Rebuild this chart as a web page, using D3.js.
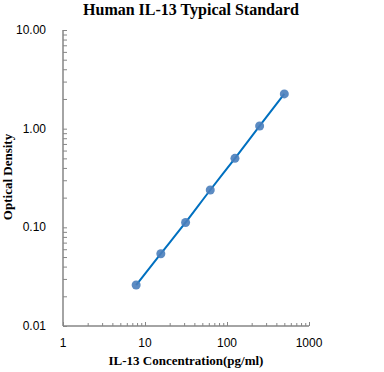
<!DOCTYPE html>
<html>
<head>
<meta charset="utf-8">
<script src="https://cdn.jsdelivr.net/npm/d3@7"></script>
<style>
  body { margin: 0; background: #fff; }
</style>
</head>
<body>
<div id="chart-area"></div>
<script>

// data
var concentrations = [7.8, 15.6, 31.25, 62.5, 125, 250, 500];
var densities = [0.026, 0.054, 0.112, 0.239, 0.50, 1.065, 2.25];
var xTickLabels = ["1", "10", "100", "1000"];
var yTickLabels = ["0.01", "0.10", "1.00", "10.00"];

var width = 384;
var height = 372;
var mLeft = 63, mRight = 309, mTop = 30, mBottom = 326;

var svg = d3.select("#chart-area").append("svg")
    .attr("width", width)
    .attr("height", height);

//  Scales

var x = d3.scaleLog()
    .domain([1, 1000])
    .range([mLeft, mRight]);

var y = d3.scaleLog()
    .domain([0.01, 10])
    .range([mBottom, mTop]);

var axisColor = "#868686";

// minor tick values 1..9 per decade
var xTicks = [];
[1, 10, 100].forEach((d) => {
    for (var i = 1; i < 10; i++) xTicks.push(d * i);
});
xTicks.push(1000);

var yTicks = [];
[0.01, 0.1, 1].forEach((d) => {
    for (var i = 1; i < 10; i++) yTicks.push(+(d * i).toPrecision(3));
});
yTicks.push(10);

//  X axis

var xAxis = d3.axisBottom(x)
    .tickValues(xTicks)
    .tickSize(-3)
    .tickFormat("");

var gx = svg.append("g")
    .attr("transform", "translate(0," + mBottom + ")")
    .call(xAxis);

gx.select(".domain").attr("stroke", axisColor).attr("stroke-width", 1.5)
    .attr("d", "M" + mLeft + ",0H" + mRight);
gx.selectAll(".tick line").attr("stroke", axisColor)
    .attr("y2", (d) => [1, 10, 100, 1000].indexOf(d) >= 0 ? -4 : -3);

svg.selectAll(".xlabel")
    .data(xTickLabels)
    .enter()
    .append("text")
    .attr("x", (d) => x(+d))
    .attr("y", 347)
    .attr("text-anchor", "middle")
    .style("font-family", "Liberation Sans, Arial, sans-serif")
    .style("font-size", "12px")
    .attr("fill", "#000")
    .text((d) => d);

//  Y axis

var yAxis = d3.axisLeft(y)
    .tickValues(yTicks)
    .tickSize(-4)
    .tickFormat("");

var gy = svg.append("g")
    .attr("transform", "translate(" + mLeft + ",0)")
    .call(yAxis);

gy.select(".domain").attr("stroke", axisColor).attr("stroke-width", 1.5)
    .attr("d", "M0," + mTop + "V" + mBottom);
gy.selectAll(".tick line").attr("stroke", axisColor);

svg.selectAll(".ylabel")
    .data(yTickLabels)
    .enter()
    .append("text")
    .attr("x", 46)
    .attr("y", (d) => y(+d) + 4)
    .attr("text-anchor", "end")
    .style("font-family", "Liberation Sans, Arial, sans-serif")
    .style("font-size", "12px")
    .attr("fill", "#000")
    .text((d) => d);

//  Titles

svg.append("text")
    .attr("x", 191)
    .attr("y", 15)
    .attr("text-anchor", "middle")
    .style("font-family", "Liberation Serif, Times New Roman, serif")
    .style("font-weight", "bold")
    .style("font-size", "16px")
    .text("Human IL-13 Typical Standard");

svg.append("text")
    .attr("x", 186)
    .attr("y", 365)
    .attr("text-anchor", "middle")
    .style("font-family", "Liberation Serif, Times New Roman, serif")
    .style("font-weight", "bold")
    .style("font-size", "13px")
    .text("IL-13 Concentration(pg/ml)");

svg.append("text")
    .attr("transform", "translate(12,177) rotate(-90)")
    .attr("text-anchor", "middle")
    .style("font-family", "Liberation Serif, Times New Roman, serif")
    .style("font-weight", "bold")
    .style("font-size", "13px")
    .text("Optical Density");

//  Curve and points

var points = concentrations.map((c, i) => ({ c: c, od: densities[i] }));

var line = d3.line()
    .x((d) => x(d.c))
    .y((d) => y(d.od))
    .curve(d3.curveMonotoneX);

svg.append("path")
    .datum(points)
    .attr("d", line)
    .attr("fill", "none")
    .attr("stroke", "#0070c0")
    .attr("stroke-width", 2);

svg.selectAll("circle")
    .data(points)
    .enter()
    .append("circle")
    .attr("cx", (d) => x(d.c))
    .attr("cy", (d) => y(d.od))
    .attr("r", 4.5)
    .attr("fill", "#4a7ebb")
    .attr("opacity", 0.9);

</script>
</body>
</html>
